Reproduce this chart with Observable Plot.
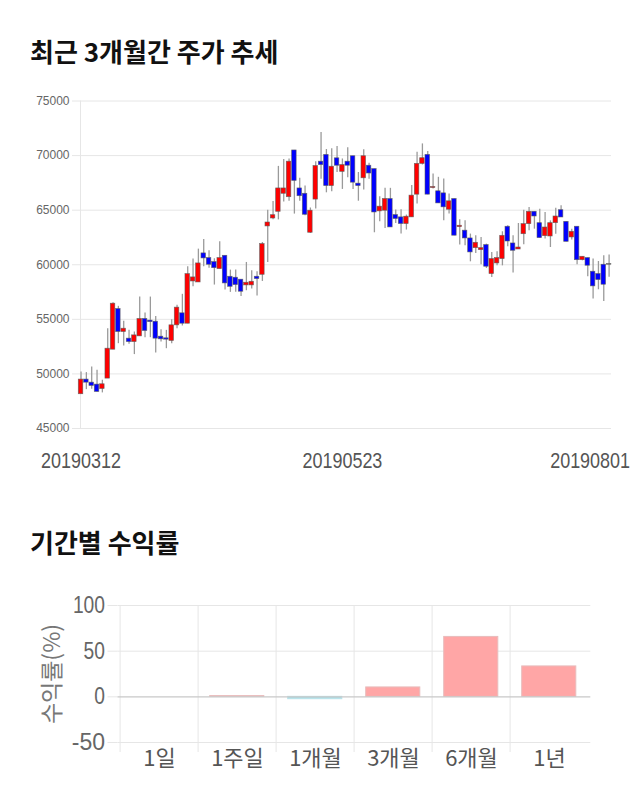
<!DOCTYPE html>
<html>
<head>
<meta charset="utf-8">
<script src="https://cdn.jsdelivr.net/npm/d3@7"></script>
<script src="https://cdn.jsdelivr.net/npm/@observablehq/plot@0.6"></script>
<style>
  html, body { margin: 0; padding: 0; background: #fff; }
  body { width: 640px; height: 810px; position: relative; overflow: hidden; font-family: "Noto Sans CJK KR", "Liberation Sans", sans-serif; }
  .title { position: absolute; left: 30px; font-family: "Noto Sans CJK KR", sans-serif; font-weight: 700; font-size: 26px; color: #111; line-height: 30px; white-space: nowrap; }
  #t1 { top: 36px; }
  #t2 { top: 527px; }
  #c1 { position: absolute; left: 0; top: 85px; }
  #c2 { position: absolute; left: 0; top: 590px; }
</style>
</head>
<body>
<div class="title" id="t1">최근 3개월간 주가 추세</div>
<div id="c1"></div>
<div class="title" id="t2">기간별 수익률</div>
<div id="c2"></div>
<script>
// ---- Candlestick data (daily, 20190312 .. 20190801) ----
const open  = [48140,49480,49200,49020,48620,49570,52220,55940,53840,53230,52920,53440,55030,54880,54780,53410,53260,53020,54450,55550,
               54600,58470,58380,61040,60610,60240,59600,60820,58900,58810,58630,58110,58110,58900,59080,63510,64240,64850,66500,66190,
               70470,66990,66500,62930,65970,69440,70060,67210,69750,68510,69440,69940,67430,67920,69070,68760,64890,64950,66020,64550,
               64340,63730,64340,66420,69240,70060,67030,66730,66540,65040,66020,63450,63120,62410,61520,61340,61800,59150,60120,60520,
               63480,61950,61400,62800,63720,64850,63810,62620,62590,63810,65000,63930,62500,63480,60420,60610,59360,59150,60000,60000];
const high  = [50180,50120,50640,50330,49420,54140,56520,56190,54820,53990,53840,57040,55580,57040,55270,54050,53990,54970,56280,57290,
               59820,60520,61430,62320,61280,60550,62100,60820,59510,59510,58630,60210,59450,59360,62040,65000,65790,69010,69630,69690,
               70470,67920,67210,65200,69440,72110,70560,70620,70840,69690,70710,69940,68450,70530,69290,68760,66240,67000,67000,65010,
               65040,64550,67250,70310,71070,70370,68320,68010,67860,66480,66020,64120,64030,62810,62660,62500,61890,61130,61190,63020,
               63570,62650,63780,65000,65240,64850,65090,64790,64020,65180,65400,63930,63260,63480,60730,60610,60520,60300,60820,60900];
const low   = [48140,48560,48590,48350,48260,49570,52220,52770,52560,52710,51770,53440,53320,53320,51920,52920,52310,52770,54140,54390,
               54600,57980,58380,59820,59690,58140,59600,57680,57470,57470,57100,57620,57770,57130,58470,60210,64120,64110,65750,65820,
               64640,65820,64480,62870,65100,67830,66590,66680,68450,66900,67980,66900,65820,66840,67830,62930,63940,63330,63420,63790,
               62810,63180,64340,65560,69140,66420,66940,65620,64030,64640,62660,61800,61740,60270,61040,60000,59660,58840,59900,59900,
               61650,59240,61400,61830,63110,63260,62440,62350,61580,62800,64330,62100,62260,60000,60360,58900,56860,57710,56640,58850];
const close = [49480,49200,48900,48350,49050,52310,56430,53840,54140,52920,53530,55030,53930,54750,53230,53170,53140,54450,56070,54600,
               59140,58840,60120,60580,60000,59690,60610,58290,57980,58140,57530,58350,58440,58690,61890,63870,64540,66990,66990,69440,
               67680,66280,64580,64950,69040,69130,67210,68980,69070,69130,69070,67520,67210,69940,68360,64790,65320,66020,63420,64190,
               63730,64400,66330,69240,69760,66420,67120,65620,65260,65810,62660,63570,62410,61130,62010,61520,59820,60520,60610,62650,
               62130,61280,61580,63720,64850,64420,62440,63410,63810,64420,64330,62100,63020,60420,60730,59910,58020,58600,58170,60000];
const priceTicks = [45000, 50000, 55000, 60000, 65000, 70000, 75000];
const dateTickIndex = [0, 49, 99];
const dateTickLabels = ["20190312", "20190523", "20190801"];

// ---- Period returns ----
const periods = ["1일", "1주일", "1개월", "3개월", "6개월", "1년"];
const returns = [0, 0.8, -2.6, 10.3, 65.6, 33.3];
const returnTicks = [-50, 0, 50, 100];

const candles = open.map((o, i) => ({i, open: o, high: high[i], low: low[i], close: close[i]}));
const candleColor = d => d.close > d.open ? "#ff0000" : d.close < d.open ? "#0000ff" : "#888888";

const sans = "'Liberation Sans', Arial, sans-serif";

// horizontally condense a text element to a given width (keeps its anchor point)
function condense(t, targetWidth) {
  const w = t.getComputedTextLength();
  if (!w) return;
  const s = Math.min(1, targetWidth / w);
  const tr = t.getAttribute("transform");
  if (tr) {
    t.setAttribute("transform", tr + ` scale(${s},1)`);
  } else {
    const x = +(t.getAttribute("x") || 0), y = +(t.getAttribute("y") || 0);
    t.removeAttribute("x"); t.removeAttribute("y");
    t.setAttribute("transform", `translate(${x},${y}) scale(${s},1)`);
  }
}

const chart1 = Plot.plot({
  width: 640, height: 395,
  marginTop: 15.5, marginBottom: 52, marginLeft: 80, marginRight: 29,
  style: {background: "#fff", fontFamily: sans, overflow: "visible"},
  x: {type: "linear", domain: [-0.1, 99.45], axis: null},
  y: {domain: [45000, 75000], axis: null},
  marks: [
    Plot.gridY(priceTicks, {stroke: "#e6e6e6", strokeOpacity: 1}),
    Plot.ruleX([-0.1], {stroke: "#e6e6e6"}),
    Plot.axisY(priceTicks, {tickSize: 8, stroke: "#e6e6e6", tickFormat: () => "", label: null}),
    Plot.axisY(priceTicks, {tickSize: 0, tickPadding: 11, fill: "#666", fontSize: 12, tickFormat: d => String(d), label: null}),
    Plot.axisX(dateTickIndex.slice(0, 2), {tickSize: 0, tickPadding: 24, fontSize: 22, fontFamily: sans, fill: "#555",
      tickFormat: i => dateTickLabels[dateTickIndex.indexOf(i)], label: null}),
    Plot.axisX(dateTickIndex.slice(2), {tickSize: 0, tickPadding: 24, fontSize: 22, fontFamily: sans, fill: "#555", textAnchor: "end", dx: 21,
      tickFormat: i => dateTickLabels[dateTickIndex.indexOf(i)], label: null}),
    Plot.ruleX(candles, {x: "i", y1: "low", y2: "high", stroke: "#9a9a9a", strokeWidth: 1.3}),
    Plot.rect(candles, {
      x1: d => d.i - 0.42, x2: d => d.i + 0.42,
      y1: "open", y2: d => d.close === d.open ? d.close + 60 : d.close,
      fill: candleColor, stroke: "#5a5a5a", strokeWidth: 0.7, strokeOpacity: 0.8
    })
  ]
});
document.getElementById("c1").appendChild(chart1);
chart1.querySelectorAll("text").forEach(t => {
  if (dateTickLabels.includes(t.textContent)) condense(t, 80);
});

const W2 = 640, ml2 = 117.5, mr2 = 49.7;
const bw = (W2 - ml2 - mr2) / periods.length;
const bars = periods.map((p, i) => ({p, v: returns[i]}));

const chart2 = Plot.plot({
  width: W2, height: 200,
  marginTop: 15, marginBottom: 48, marginLeft: ml2, marginRight: mr2,
  style: {background: "#fff", overflow: "visible"},
  x: {domain: periods, padding: 0, axis: null},
  y: {domain: [-50, 100], axis: null},
  marks: [
    Plot.gridY(returnTicks.filter(t => t !== 0), {stroke: "#e6e6e6", strokeOpacity: 1}),
    Plot.ruleX(periods, {x: d => d, dx: -bw / 2, stroke: "#e6e6e6", insetBottom: -10}),
    Plot.axisY(returnTicks, {tickSize: 10, stroke: "#e6e6e6", tickFormat: () => "", label: null}),
    Plot.axisY(returnTicks, {tickSize: 0, tickPadding: 13, fill: "#666", fontSize: 23, fontFamily: sans, tickFormat: d => String(d),
      label: "수익률(%)", labelAnchor: "center", labelArrow: "none", labelOffset: 74}),
    Plot.barY(bars, {x: "p", y: "v", fill: d => d.v >= 0 ? "#ffa6a6" : "#a6dfe8",
      stroke: d => d.v >= 0 ? "#e8bcbc" : "#b9e3ea", strokeWidth: 1, insetLeft: 11.7, insetRight: 12.2}),
    Plot.ruleY([0], {stroke: "#c8c8c8", strokeWidth: 1.3}),
    Plot.axisX(periods, {tickSize: 0, tickPadding: 8, fill: "#555", fontSize: 22, fontFamily: "'Noto Sans CJK KR', sans-serif", label: null})
  ]
});
document.getElementById("c2").appendChild(chart2);
chart2.querySelectorAll("text").forEach(t => {
  const s = t.textContent;
  if (returnTicks.map(String).includes(s)) {
    const len = [...s].reduce((a, c) => a + (c === "-" ? 13 : 10.7), 0);
    condense(t, len);
  }
  if (s === "수익률(%)") {
    t.setAttribute("font-size", "23");
    t.setAttribute("fill", "#777");
    t.style.fontFamily = "'Noto Sans CJK KR', sans-serif";
  }
});
</script>
</body>
</html>
